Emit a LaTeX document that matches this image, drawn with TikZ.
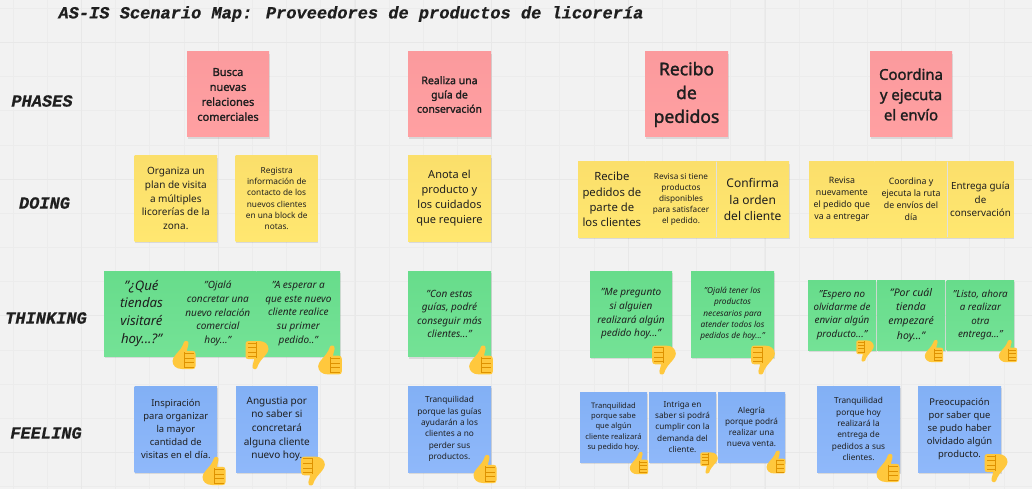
\documentclass[tikz,border=0pt]{standalone}
\usepackage{fontspec}
\setmainfont{Noto Sans}
\newfontfamily\phasefont{Noto Sans}[FakeBold=1.6]
\newfontfamily\labelfont{Liberation Mono}[BoldItalicFeatures={FakeBold=.5}]
\usetikzlibrary{shadows}
\definecolor{boardbg}{HTML}{F2F2F2}
\definecolor{gridminor}{HTML}{ECECEC}
\definecolor{gridmajor}{HTML}{E8E8E8}
\definecolor{inkdark}{HTML}{1F1F1F}
\definecolor{thumbfill}{HTML}{FFC83D}
\definecolor{thumbline}{HTML}{DE9200}
\newcommand{\notesize}[1]{\fontsize{#1}{\fpeval{1.36*#1}}\selectfont}
\tikzset{
  note/.style={anchor=north west,inner sep=0pt,outer sep=0pt,align=center,text=inkdark,
    drop shadow={shadow xshift=.5pt,shadow yshift=-2pt,opacity=.1,fill=black}},
  rowlabel/.style={text=inkdark,font=\labelfont\bfseries\itshape\fontsize{17}{20}\selectfont},
  seam/.style={black!12,line width=.6pt},
  thumb/.pic={
    \fill[thumbfill] (-3.5,-6) .. controls (-1.5,-8) and (-1,-11) .. (0,-13)
      .. controls (1,-15) and (5.5,-14.5) .. (4.4,-10.5) -- (2.8,-4.2) -- (8.5,-4.2)
      .. controls (10.5,-4.2) and (11.5,-3) .. (11.5,-1) -- (11.5,11)
      .. controls (11.5,13) and (10.5,14) .. (8.5,14) -- (-2,14)
      .. controls (-8,14) and (-11.5,10.5) .. (-11.5,6)
      .. controls (-11.5,2) and (-6,-2.5) .. (-3.5,-6) -- cycle;
    \draw[thumbline,line width=.6pt] (0.5,-3) -- (0.5,13);
    \foreach \t in {-1.5,3,7.5,12}
      \draw[thumbline,line width=.6pt] (0.5,\t) -- (9.5,\t);
  }
}
\begin{document}
\begin{tikzpicture}[x=1pt,y=-1pt]
  \useasboundingbox (0,0) rectangle (1032,489);
  \fill[boardbg] (0,0) rectangle (1032,489);
  % board grid
  \foreach \i in {0,...,30}
    \draw[gridminor,line width=.7pt] ({13+34.17*\i},0) -- ({13+34.17*\i},489);
  \foreach \j in {0,...,14}
    \draw[gridminor,line width=.7pt] (0,{8.3+34.17*\j}) -- (1032,{8.3+34.17*\j});
  \foreach \i in {0,...,6}
    \draw[gridmajor,line width=1pt] ({81.7+136.7*\i},0) -- ({81.7+136.7*\i},489);
  \foreach \j in {0,...,3}
    \draw[gridmajor,line width=1pt] (0,{42.5+136.7*\j}) -- (1032,{42.5+136.7*\j});
  % title and rows
  \node[rowlabel,anchor=west] (title) at (55,14) {AS-IS Scenario Map: Proveedores de productos de licorería};
  \node[rowlabel] (phases) at (42,101) {PHASES};
  \node[rowlabel] (doing) at (44.5,203) {DOING};
  \node[rowlabel] (thinking) at (46,318) {THINKING};
  \node[rowlabel] (feeling) at (46,433) {FEELING};
  % phases
  \foreach \n/\x/\w/\s/\l in {
    pha/187/82/11/{Busca\\nuevas\\relaciones\\comerciales},
    phb/408/83/10.5/{Realiza una\\guía de\\conservación},
    phc/645/83/17.5/{Recibo\\de\\pedidos},
    phd/870/82/14.9/{Coordina\\y ejecuta\\el envío}}
    \node[note,minimum width=\w pt,minimum height=85pt,
      top color={rgb,255:red,251;green,154;blue,157},bottom color={rgb,255:red,255;green,160;blue,162},
      font=\phasefont\notesize{\s}] (\n) at (\x,52) {\l};
  % doing
  \foreach \n/\x/\y/\w/\h/\s/\l in {
    doa/134.7/156/82.3/85/10/{Organiza un\\plan de visita\\a múltiples\\licorerías de la\\zona.},
    dob/235.7/156/82/85/8.3/{Registra\\información de\\contacto de los\\nuevos clientes\\en una block de\\notas.},
    doc/408/156/83/85/11/{Anota el\\producto y\\los cuidados\\que requiere},
    dod/578/162/67.7/75/11.3/{Recibe\\pedidos de\\parte de\\los clientes},
    doe/645.7/162/70.6/75/8.2/{Revisa si tiene\\productos\\disponibles\\para satisfacer\\el pedido.},
    dof/716.3/162/72.7/75/12/{Confirma\\la orden\\del cliente},
    dog/809/162/65.7/75/8.8/{Revisa\\nuevamente\\el pedido que\\va a entregar},
    doh/874.7/162/72.6/75/8.8/{Coordina y\\ejecuta la ruta\\de envíos del\\día},
    doi/947.3/162/66.4/75/9.8/{Entrega guía\\de\\conservación}}
    \node[note,minimum width=\w pt,minimum height=\h pt,
      top color={rgb,255:red,251;green,223;blue,107},bottom color={rgb,255:red,255;green,231;blue,112},
      font=\notesize{\s}] (\n) at (\x,\y) {\l};
  \foreach \a in {doe,doh}
    \draw[seam] (\a.north east) -- (\a.south east);
  % thinking
  \foreach \n/\x/\y/\w/\h/\s/\l in {
    tha/104/271/75/85/13.2/{"¿Qué\\tiendas\\visitaré\\hoy...?"},
    thb/179/271/77.7/85/10/{"Ojalá\\concretar una\\nuevo relación\\comercial\\hoy..."},
    thc/256.7/271/83.3/85/10/{"A esperar a\\que este nuevo\\cliente realice\\su primer\\pedido.."},
    thd/408/271/83/85.7/10/{"Con estas\\guías, podré\\conseguir más\\clientes..."},
    the/590/271/82/86/10/{"Me pregunto\\si alguien\\realizará algún\\pedido hoy..."},
    thf/691/271/83/86/8.3/{"Ojalá tener los\\productos\\necesarios para\\atender todos los\\pedidos de hoy..."},
    thg/808/280/68/70/9.8/{"Espero no\\olvidarme de\\enviar algún\\producto..."},
    thh/877/280/68/70/10.5/{"Por cuál\\tienda\\empezaré\\hoy..."},
    thi/946.7/280/67.3/70/9.8/{"Listo, ahora\\a realizar\\otra\\entrega..."}}
    \node[note,minimum width=\w pt,minimum height=\h pt,
      top color={rgb,255:red,103;green,220;blue,139},bottom color={rgb,255:red,116;green,226;blue,150},
      font=\itshape\notesize{\s}] (\n) at (\x,\y) {\l};
  % feeling
  \foreach \n/\x/\y/\w/\h/\s/\l in {
    fea/134.7/386/82.3/86/9.4/{Inspiración\\para organizar\\la mayor\\cantidad de\\visitas en el día.},
    feb/236/386/81.7/86/10/{Angustia por\\no saber si\\concretará\\alguna cliente\\nuevo hoy.},
    fec/408/386/83/86/8.3/{Tranquilidad\\porque las guías\\ayudarán a los\\clientes a no\\perder sus\\productos.},
    fed/580/392/67/70/7.6/{Tranquilidad\\porque sabe\\que algún\\cliente realizará\\su pedido hoy.},
    fee/649/392/67/70/8.2/{Intriga en\\saber si podrá\\cumplir con la\\demanda del\\cliente.},
    fef/718/392/67/70/8.2/{Alegría\\porque podrá\\realizar una\\nueva venta.},
    feg/817/386/83/86/8.3/{Tranquilidad\\porque hoy\\realizará la\\entrega de\\pedidos a sus\\clientes.},
    feh/918/386/83/86/9.4/{Preocupación\\por saber que\\se pudo haber\\olvidado algún\\producto.}}
    \node[note,minimum width=\w pt,minimum height=\h pt,
      top color={rgb,255:red,130;green,176;blue,245},bottom color={rgb,255:red,143;green,184;blue,250},
      font=\notesize{\s}] (\n) at (\x,\y) {\l};
  % thumbs
  \foreach \x/\y/\s in {184/355/1,330/360/1.03,481/360/1.03,214/471/1,485/469/1,
    934/351/.8,1008/351/.8,639/463/.8,776/462/.82,888/468/1}
    \pic[scale=\s] at (\x,\y) {thumb};
  \foreach \x/\y/\s in {257/355/1,313/471/1.03,664/360/1.03,763/360/1.03,865/351/.76,709/463/.76,996/468/1}
    \pic[scale=\s,rotate=180] at (\x,\y) {thumb};
\end{tikzpicture}
\end{document}
